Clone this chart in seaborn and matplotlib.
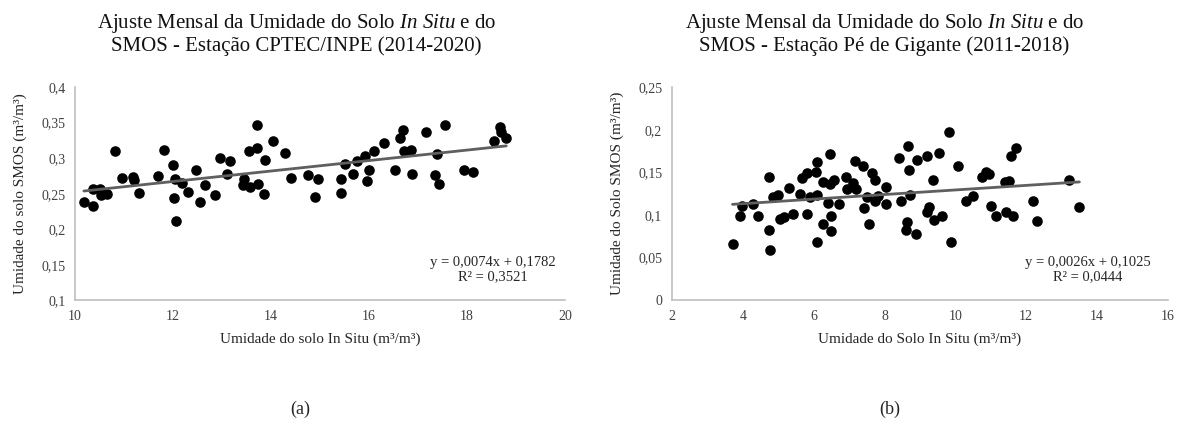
import numpy as np
import pandas as pd
import matplotlib
matplotlib.use('Agg')
import matplotlib.pyplot as plt
import seaborn as sns
from matplotlib.ticker import FuncFormatter, MultipleLocator

# dados (a) - estacao CPTEC/INPE
insitu_a = [10.18, 10.37, 10.37, 10.51, 10.52, 10.66, 10.82, 10.95, 11.18, 11.20,
            11.31, 11.69, 11.82, 11.99, 12.04, 12.18, 12.01, 12.07, 12.31, 12.47,
            12.55, 12.66, 12.86, 12.95, 13.11, 13.17, 13.44, 13.42, 13.56, 13.54,
            13.72, 13.71, 13.73, 13.86, 13.88, 14.03, 14.29, 14.41, 14.76, 14.89,
            14.95, 15.42, 15.43, 15.51, 15.68, 15.76, 15.92, 15.95, 16.00, 16.10,
            16.31, 16.52, 16.63, 16.70, 16.71, 16.85, 16.88, 17.16, 17.35, 17.38,
            17.42, 17.55, 17.94, 18.12, 18.54, 18.67, 18.69, 18.80]
smos_a = [0.239, 0.232, 0.256, 0.256, 0.248, 0.249, 0.310, 0.272, 0.273, 0.269,
          0.251, 0.275, 0.312, 0.290, 0.270, 0.265, 0.244, 0.212, 0.252, 0.284,
          0.239, 0.262, 0.248, 0.300, 0.278, 0.296, 0.271, 0.262, 0.259, 0.310,
          0.314, 0.346, 0.263, 0.250, 0.297, 0.324, 0.307, 0.272, 0.276, 0.245,
          0.271, 0.251, 0.270, 0.292, 0.278, 0.296, 0.303, 0.268, 0.283, 0.310,
          0.322, 0.283, 0.329, 0.340, 0.310, 0.312, 0.278, 0.337, 0.277, 0.306,
          0.264, 0.347, 0.283, 0.281, 0.324, 0.344, 0.337, 0.329]

# dados (b) - estacao Pe de Gigante
insitu_b = [3.71, 3.92, 3.97, 4.30, 4.43, 4.75, 4.75, 4.77, 4.84, 5.00,
            5.05, 5.17, 5.31, 5.43, 5.62, 5.66, 5.80, 5.80, 5.90, 6.07,
            6.10, 6.09, 6.09, 6.26, 6.27, 6.40, 6.46, 6.46, 6.50, 6.50,
            6.58, 6.71, 6.92, 6.94, 7.12, 7.18, 7.20, 7.39, 7.42, 7.56,
            7.50, 7.66, 7.73, 7.74, 7.82, 8.03, 8.03, 8.40, 8.46, 8.63,
            8.61, 8.67, 8.70, 8.72, 8.89, 8.93, 9.19, 9.36, 9.25, 9.21,
            9.41, 9.55, 9.63, 9.82, 9.87, 10.07, 10.29, 10.51, 10.75, 10.87,
            10.95, 11.00, 11.15, 11.39, 11.51, 11.44, 11.64, 11.57, 11.71, 12.19,
            12.31, 13.21, 13.50]
smos_b = [0.066, 0.099, 0.111, 0.113, 0.099, 0.145, 0.083, 0.059, 0.121, 0.124,
          0.095, 0.098, 0.132, 0.101, 0.125, 0.143, 0.149, 0.101, 0.121, 0.150,
          0.162, 0.124, 0.068, 0.090, 0.139, 0.114, 0.171, 0.136, 0.099, 0.081,
          0.141, 0.113, 0.144, 0.130, 0.138, 0.163, 0.130, 0.157, 0.108, 0.090,
          0.121, 0.149, 0.141, 0.116, 0.122, 0.133, 0.113, 0.167, 0.117, 0.092,
          0.082, 0.181, 0.153, 0.123, 0.078, 0.165, 0.169, 0.141, 0.109, 0.104,
          0.094, 0.173, 0.099, 0.197, 0.068, 0.157, 0.117, 0.122, 0.144, 0.151,
          0.148, 0.111, 0.099, 0.139, 0.140, 0.103, 0.099, 0.169, 0.179, 0.117,
          0.093, 0.141, 0.109]

titulos = ['Ajuste Mensal da Umidade do Solo $\\mathit{In\\ Situ}$ e do\nSMOS - Estação CPTEC/INPE (2014-2020)',
           'Ajuste Mensal da Umidade do Solo $\\mathit{In\\ Situ}$ e do\nSMOS - Estação Pé de Gigante (2011-2018)']
xlabels = ['Umidade do solo In Situ (m³/m³)', 'Umidade do Solo In Situ (m³/m³)']
ylabels = ['Umidade do solo SMOS (m³/m³)', 'Umidade do Solo SMOS (m³/m³)']
equacoes = ['y = 0,0074x + 0,1782\nR² = 0,3521', 'y = 0,0026x + 0,1025\nR² = 0,0444']
letras = ['(a)', '(b)']

sns.set_style('white')
plt.rcParams['font.family'] = ['Liberation Serif', 'DejaVu Serif']
plt.rcParams['mathtext.fontset'] = 'custom'
plt.rcParams['mathtext.rm'] = 'Liberation Serif'
plt.rcParams['mathtext.it'] = 'Liberation Serif:italic'

df_a = pd.DataFrame({'insitu': insitu_a, 'smos': smos_a})
df_b = pd.DataFrame({'insitu': insitu_b, 'smos': smos_b})

fig = plt.figure(figsize=(11.82, 4.29), dpi=100)
ax_a = fig.add_axes([0.0635, 0.30, 0.4146, 0.497])
ax_b = fig.add_axes([0.5685, 0.30, 0.4196, 0.497])

virgula = FuncFormatter(lambda v, p: ('%g' % round(v, 4)).replace('.', ','))

# eixo, dados, limites x, passo x, limites y, passo y, pos. equacao, pos. titulo, pos. letra
config = [
    (ax_a, df_a, (10, 20), 2, (0.1, 0.4), 0.05, 0.853, 0.251, 0.254),
    (ax_b, df_b, (2, 16), 2, (0, 0.25), 0.05, 0.839, 0.748, 0.753),
]

for i, (ax, df, xl, xs, yl, ys, ex, tx, lx) in enumerate(config):
    sns.scatterplot(data=df, x='insitu', y='smos', ax=ax, color='black',
                    s=58, edgecolor='black', linewidth=0, zorder=3)
    sns.regplot(data=df, x='insitu', y='smos', ax=ax, scatter=False, ci=None,
                color='#5f5f5f', line_kws={'linewidth': 2, 'zorder': 4})
    ax.set_xlim(*xl)
    ax.set_ylim(*yl)
    ax.xaxis.set_major_locator(MultipleLocator(xs))
    ax.yaxis.set_major_locator(MultipleLocator(ys))
    ax.xaxis.set_major_formatter(virgula)
    ax.yaxis.set_major_formatter(virgula)
    ax.tick_params(labelsize=10, colors='#404040', length=0, pad=7)
    for s in ['top', 'right']:
        ax.spines[s].set_visible(False)
    for s in ['left', 'bottom']:
        ax.spines[s].set_color('#bfbfbf')
        ax.spines[s].set_linewidth(1.2)
    ax.set_xlabel(xlabels[i], fontsize=11, color='#262626', labelpad=7)
    ax.set_ylabel(ylabels[i], fontsize=11, color='#262626', labelpad=10)
    ax.text(ex, 0.145, equacoes[i], transform=ax.transAxes, ha='center',
            va='center', fontsize=10.5, color='#262626', linespacing=1.1,
            multialignment='center')
    fig.text(tx, 0.921, titulos[i], ha='center', va='center',
             fontsize=15, color='#111111', linespacing=1.12)
    fig.text(lx, 0.045, letras[i], ha='center', va='center', fontsize=13)

plt.savefig('out.png', dpi=100)
